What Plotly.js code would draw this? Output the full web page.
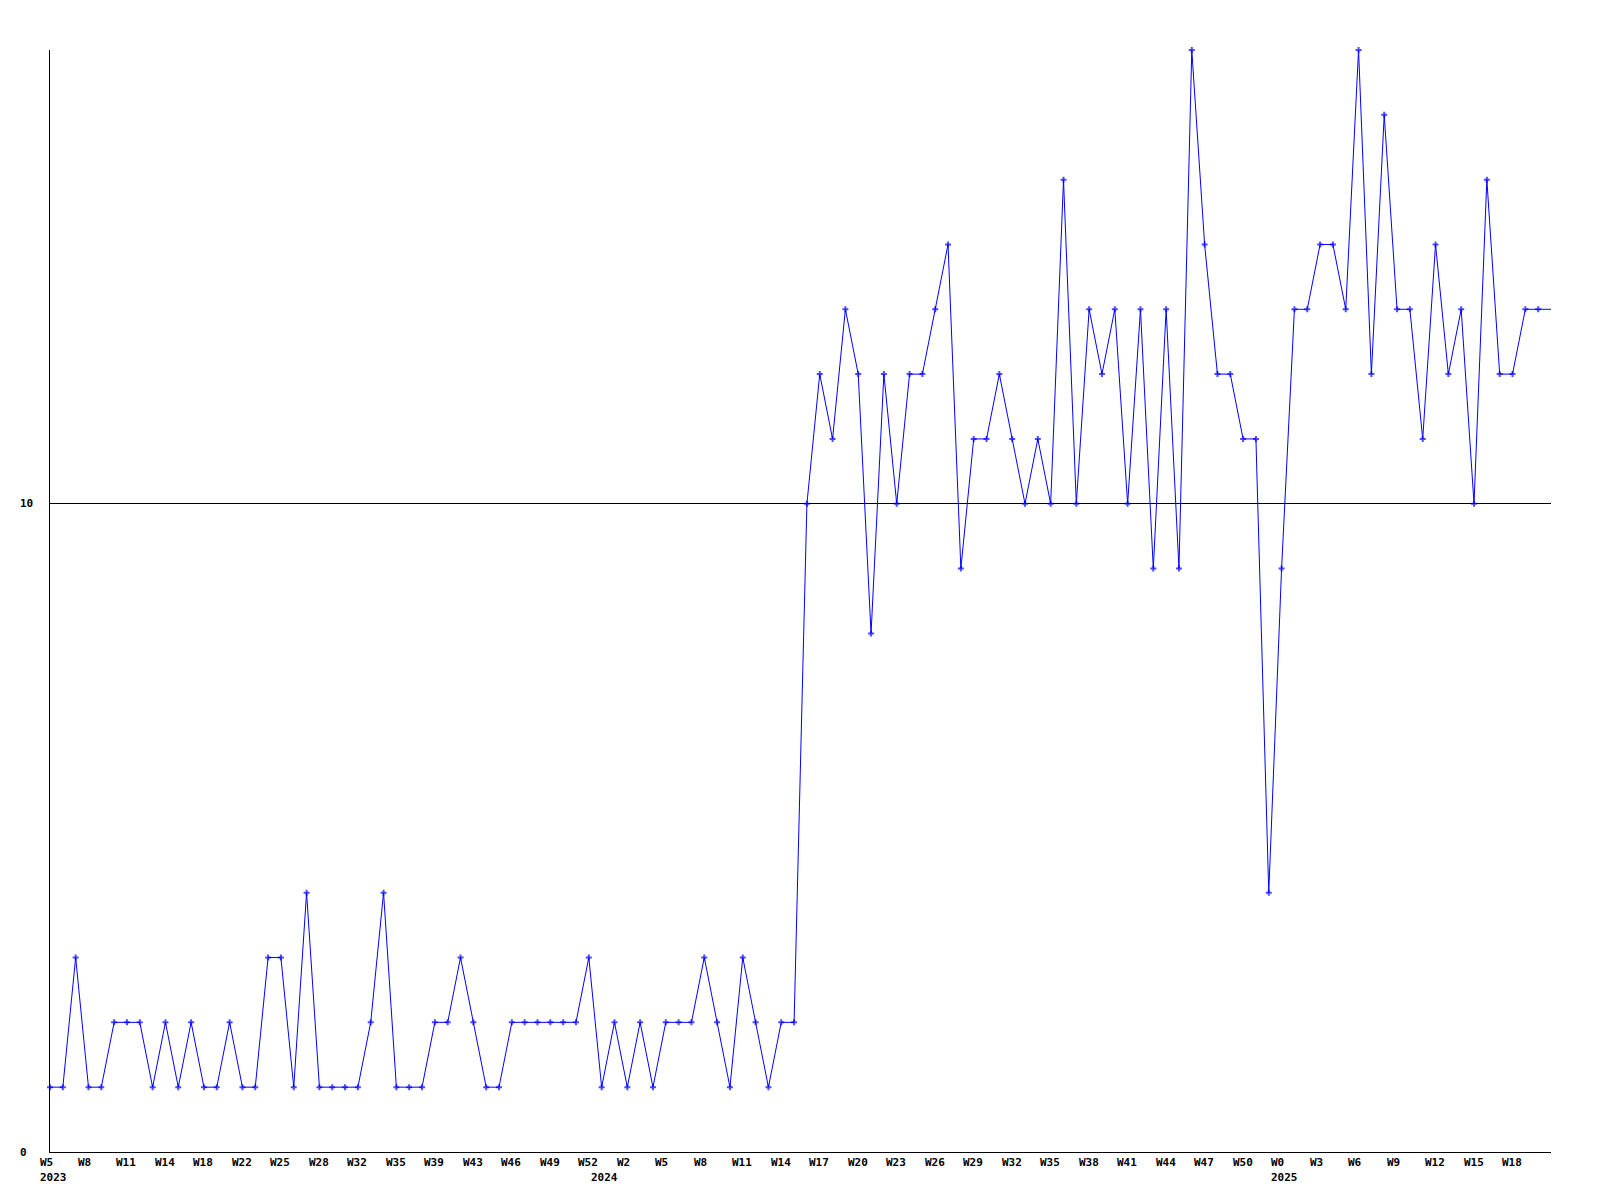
<!DOCTYPE html>
<html>
<head>
<meta charset="utf-8">
<script src="https://cdn.plot.ly/plotly-3.0.1.min.js"></script>
<style>
  html, body { margin: 0; padding: 0; background: #ffffff; }
  #chart { width: 1600px; height: 1200px; }
</style>
</head>
<body>
<div id="chart"></div>
<script>
// Weekly values, 2023 W5 onward (last value continues past the right edge)
const weeklyValues = [
  1, 1, 3, 1, 1, 2, 2, 2, 1, 2,
  1, 2, 1, 1, 2, 1, 1, 3, 3, 1,
  4, 1, 1, 1, 1, 2, 4, 1, 1, 1,
  2, 2, 3, 2, 1, 1, 2, 2, 2, 2,
  2, 2, 3, 1, 2, 1, 2, 1, 2, 2,
  2, 3, 2, 1, 3, 2, 1, 2, 2, 10,
  12, 11, 13, 12, 8, 12, 10, 12, 12, 13,
  14, 9, 11, 11, 12, 11, 10, 11, 10, 15,
  10, 13, 12, 13, 10, 13, 9, 13, 9, 17,
  14, 12, 12, 11, 11, 4, 9, 13, 13, 14,
  14, 13, 17, 12, 16, 13, 13, 11, 14, 12,
  13, 10, 15, 12, 12, 13, 13, 13
];

// Week tick labels, one every third week starting at the first point
const weekTickLabels = [
  "W5", "W8", "W11", "W14", "W18", "W22", "W25", "W28", "W32", "W35",
  "W39", "W43", "W46", "W49", "W52", "W2", "W5", "W8", "W11", "W14",
  "W17", "W20", "W23", "W26", "W29", "W32", "W35", "W38", "W41", "W44",
  "W47", "W50", "W0", "W3", "W6", "W9", "W12", "W15", "W18"
];
const weekTickStep = 3;

// Year labels and the week index where each year begins
const yearLabels = ["2023", "2024", "2025"];
const yearStartIndex = [0, 43, 96];

// Y axis labels
const yTickValues = [0, 10];

const lastIdx = weeklyValues.length - 1;
const xs = weeklyValues.map((_, i) => i);
const markerSizes = weeklyValues.map((_, i) => (i === lastIdx ? 0 : 5));

const labelFont = { family: "DejaVu Sans Mono, Liberation Mono, monospace", size: 11, color: "#000000", weight: "bold" };

const annotations = [];
weekTickLabels.forEach((t, k) => {
  annotations.push({
    x: k * weekTickStep, xref: "x", y: 0, yref: "paper",
    text: t, showarrow: false, xanchor: "left", yanchor: "middle",
    xshift: -10.5, yshift: -10, font: labelFont, borderpad: 0, borderwidth: 0
  });
});
yearLabels.forEach((t, k) => {
  annotations.push({
    x: yearStartIndex[k], xref: "x", y: 0, yref: "paper",
    text: t, showarrow: false, xanchor: "left", yanchor: "middle",
    xshift: -10.5, yshift: -25, font: labelFont, borderpad: 0, borderwidth: 0
  });
});
yTickValues.forEach((v) => {
  annotations.push({
    x: 0, xref: "paper", y: v, yref: "y",
    text: String(v), showarrow: false, xanchor: "left", yanchor: "middle",
    xshift: -30.5, font: labelFont, borderpad: 0, borderwidth: 0
  });
});

const trace = {
  x: xs,
  y: weeklyValues,
  type: "scatter",
  mode: "lines+markers",
  line: { color: "#0000ff", width: 1 },
  marker: { color: "#0000ff", symbol: "cross", size: markerSizes, line: { width: 0 } },
  cliponaxis: false,
  hoverinfo: "skip"
};

const layout = {
  width: 1600,
  height: 1200,
  margin: { l: 50, r: 49, t: 50, b: 48, pad: 0 },
  paper_bgcolor: "#ffffff",
  plot_bgcolor: "#ffffff",
  showlegend: false,
  xaxis: {
    range: [0, lastIdx],
    showgrid: false,
    zeroline: false,
    showline: true,
    linecolor: "#000000",
    linewidth: 1,
    showticklabels: false,
    ticks: "",
    fixedrange: true
  },
  yaxis: {
    range: [0, 17],
    tickvals: yTickValues,
    showgrid: true,
    gridcolor: "#000000",
    gridwidth: 1,
    zeroline: false,
    showline: true,
    linecolor: "#000000",
    linewidth: 1,
    showticklabels: false,
    ticks: "",
    fixedrange: true
  },
  annotations: annotations
};

Plotly.newPlot("chart", [trace], layout, { staticPlot: true, displayModeBar: false });
</script>
</body>
</html>
